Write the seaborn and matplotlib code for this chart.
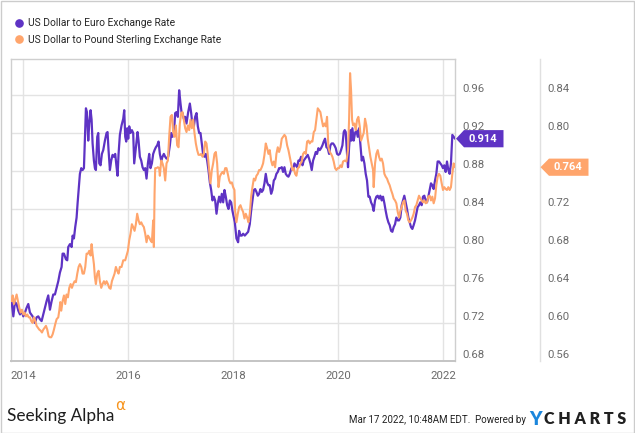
import matplotlib
matplotlib.use("Agg")
import matplotlib.pyplot as plt
import matplotlib.transforms as mtransforms
from matplotlib.lines import Line2D
from matplotlib.patches import Polygon, Rectangle
import pandas as pd
import seaborn as sns

# ---------------- data ----------------
euro_dates = [
    2013.778, 2013.810, 2013.841, 2013.873, 2013.905, 2013.937, 2013.968, 2014.000, 2014.032, 2014.063,
    2014.095, 2014.127, 2014.190, 2014.222, 2014.254, 2014.286, 2014.317, 2014.349, 2014.381, 2014.413,
    2014.444, 2014.476, 2014.508, 2014.540, 2014.571, 2014.603, 2014.635, 2014.667, 2014.698, 2014.730,
    2014.749, 2014.775, 2014.813, 2014.838, 2014.857, 2014.889, 2014.921, 2014.940, 2014.965, 2014.990,
    2015.016, 2015.035, 2015.060, 2015.079, 2015.105, 2015.130, 2015.156, 2015.175, 2015.194, 2015.213,
    2015.238, 2015.257, 2015.283, 2015.302, 2015.321, 2015.346, 2015.365, 2015.384, 2015.410, 2015.429,
    2015.448, 2015.473, 2015.498, 2015.524, 2015.556, 2015.587, 2015.606, 2015.625, 2015.651, 2015.676,
    2015.702, 2015.727, 2015.752, 2015.778, 2015.797, 2015.816, 2015.841, 2015.873, 2015.905,
    2015.924, 2015.943, 2015.962, 2015.981, 2016.000, 2016.019, 2016.044, 2016.070, 2016.095, 2016.114,
    2016.133, 2016.159, 2016.178, 2016.197, 2016.222, 2016.248, 2016.273, 2016.298, 2016.324, 2016.349,
    2016.375, 2016.400, 2016.425, 2016.451, 2016.476, 2016.502, 2016.527, 2016.552, 2016.578, 2016.603,
    2016.629, 2016.654, 2016.679, 2016.705, 2016.730, 2016.762, 2016.794, 2016.819, 2016.844, 2016.870,
    2016.895, 2016.921, 2016.946, 2016.971, 2016.997, 2017.016, 2017.035, 2017.060, 2017.086, 2017.111,
    2017.143, 2017.175, 2017.200, 2017.225, 2017.251, 2017.276, 2017.302, 2017.327, 2017.352, 2017.378,
    2017.403, 2017.429, 2017.454, 2017.479, 2017.505, 2017.530, 2017.556, 2017.581, 2017.606, 2017.632,
    2017.657, 2017.683, 2017.708, 2017.733, 2017.759, 2017.784, 2017.810, 2017.835, 2017.860, 2017.886,
    2017.911, 2017.937, 2017.962, 2017.987, 2018.013,
    2018.032, 2018.063, 2018.095, 2018.114, 2018.140, 2018.165, 2018.190, 2018.222, 2018.254, 2018.286,
    2018.317, 2018.343, 2018.368, 2018.394, 2018.419, 2018.444, 2018.470, 2018.495, 2018.521, 2018.546,
    2018.571, 2018.597, 2018.622, 2018.648, 2018.673, 2018.698, 2018.724, 2018.749, 2018.775, 2018.800,
    2018.825, 2018.851, 2018.876, 2018.902, 2018.927, 2018.952, 2018.978, 2019.003, 2019.029, 2019.054,
    2019.079, 2019.111, 2019.143, 2019.168, 2019.194, 2019.219, 2019.244, 2019.270, 2019.295, 2019.321,
    2019.346, 2019.371, 2019.397, 2019.422, 2019.448, 2019.473, 2019.498, 2019.524, 2019.549, 2019.575,
    2019.600, 2019.625, 2019.651, 2019.676, 2019.702, 2019.727, 2019.752, 2019.778, 2019.803, 2019.829,
    2019.854, 2019.879, 2019.905, 2019.930, 2019.956, 2019.981, 2020.006, 2020.032, 2020.057, 2020.083,
    2020.108, 2020.127,
    2020.146, 2020.171, 2020.190, 2020.210, 2020.235, 2020.254, 2020.273, 2020.298, 2020.324, 2020.349,
    2020.375, 2020.400, 2020.425, 2020.451, 2020.476, 2020.502, 2020.527, 2020.552, 2020.578, 2020.603,
    2020.629, 2020.654, 2020.679, 2020.705, 2020.730, 2020.756, 2020.781, 2020.806, 2020.832, 2020.857,
    2020.883, 2020.908, 2020.933, 2020.959, 2020.984, 2021.010, 2021.035, 2021.060, 2021.086, 2021.111,
    2021.137, 2021.162, 2021.187, 2021.213, 2021.238, 2021.263, 2021.289, 2021.314, 2021.340, 2021.365,
    2021.390, 2021.416, 2021.441, 2021.467, 2021.492, 2021.517, 2021.543, 2021.568, 2021.594, 2021.619,
    2021.644, 2021.670, 2021.695, 2021.721, 2021.746, 2021.771, 2021.797, 2021.822, 2021.848, 2021.873,
    2021.898, 2021.924, 2021.949, 2021.975, 2022.000, 2022.025, 2022.051, 2022.076, 2022.102, 2022.127,
    2022.152, 2022.178, 2022.203, 2022.229,
]
euro_rate = [
    0.742, 0.727, 0.742, 0.740, 0.733, 0.729, 0.733, 0.727, 0.731, 0.736,
    0.740, 0.731, 0.726, 0.720, 0.726, 0.727, 0.724, 0.722, 0.729, 0.736,
    0.743, 0.749, 0.734, 0.743, 0.750, 0.750, 0.757, 0.764, 0.773, 0.779,
    0.793, 0.793, 0.787, 0.786, 0.800, 0.803, 0.800, 0.812, 0.809, 0.821,
    0.831, 0.846, 0.863, 0.877, 0.883, 0.881, 0.883, 0.916, 0.946, 0.942,
    0.912, 0.930, 0.944, 0.934, 0.909, 0.891, 0.883, 0.881, 0.916, 0.920,
    0.888, 0.886, 0.898, 0.902, 0.912, 0.920, 0.921, 0.902, 0.881, 0.891,
    0.897, 0.895, 0.898, 0.884, 0.875, 0.898, 0.918, 0.928, 0.935,
    0.944, 0.916, 0.911, 0.925, 0.914, 0.927, 0.920, 0.923, 0.920, 0.888,
    0.898, 0.912, 0.921, 0.912, 0.895, 0.891, 0.884, 0.881, 0.883, 0.872,
    0.888, 0.898, 0.883, 0.888, 0.898, 0.902, 0.905, 0.907, 0.911, 0.898,
    0.891, 0.895, 0.898, 0.895, 0.893, 0.895, 0.907, 0.920, 0.916, 0.918,
    0.941, 0.942, 0.937, 0.965, 0.951, 0.942, 0.941, 0.935, 0.937, 0.930,
    0.942, 0.951, 0.941, 0.928, 0.927, 0.937, 0.941, 0.927, 0.920, 0.920,
    0.909, 0.897, 0.895, 0.898, 0.891, 0.881, 0.868, 0.860, 0.849, 0.853,
    0.849, 0.835, 0.846, 0.853, 0.847, 0.856, 0.847, 0.860, 0.853, 0.844,
    0.840, 0.849, 0.847, 0.838, 0.831,
    0.826, 0.809, 0.805, 0.817, 0.812, 0.812, 0.814, 0.812, 0.814, 0.816,
    0.824, 0.838, 0.849, 0.860, 0.861, 0.858, 0.854, 0.856, 0.861, 0.858,
    0.860, 0.867, 0.877, 0.868, 0.865, 0.865, 0.856, 0.860, 0.870, 0.872,
    0.877, 0.879, 0.883, 0.883, 0.884, 0.879, 0.884, 0.877, 0.875, 0.874,
    0.877, 0.883, 0.881, 0.888, 0.886, 0.884, 0.891, 0.891, 0.895, 0.886,
    0.891, 0.893, 0.895, 0.897, 0.893, 0.888, 0.881, 0.891, 0.895, 0.900,
    0.898, 0.904, 0.902, 0.904, 0.907, 0.911, 0.914, 0.905, 0.904, 0.898,
    0.907, 0.909, 0.909, 0.907, 0.904, 0.898, 0.897, 0.898, 0.902, 0.907,
    0.921, 0.923,
    0.921, 0.898, 0.884, 0.905, 0.923, 0.912, 0.925, 0.912, 0.920, 0.923,
    0.916, 0.925, 0.909, 0.891, 0.895, 0.888, 0.877, 0.870, 0.853, 0.853,
    0.847, 0.844, 0.838, 0.849, 0.853, 0.854, 0.851, 0.854, 0.849, 0.853,
    0.846, 0.838, 0.831, 0.826, 0.823, 0.817, 0.816, 0.821, 0.824, 0.831,
    0.828, 0.828, 0.831, 0.844, 0.849, 0.854, 0.847, 0.840, 0.831, 0.826,
    0.821, 0.819, 0.823, 0.828, 0.835, 0.842, 0.844, 0.847, 0.844, 0.853,
    0.854, 0.849, 0.847, 0.853, 0.860, 0.867, 0.865, 0.861, 0.870, 0.877,
    0.890, 0.890, 0.888, 0.886, 0.883, 0.886, 0.879, 0.890, 0.881, 0.877,
    0.888, 0.918, 0.916, 0.914,
]

gbp_dates = [
    2013.778, 2013.797, 2013.822, 2013.848, 2013.873, 2013.898, 2013.924, 2013.949, 2013.975, 2014.000,
    2014.025, 2014.051, 2014.076, 2014.102, 2014.127, 2014.152, 2014.178, 2014.203, 2014.229, 2014.254,
    2014.279, 2014.305, 2014.330, 2014.356, 2014.381, 2014.406, 2014.432, 2014.457, 2014.483, 2014.508,
    2014.533, 2014.559, 2014.584, 2014.610, 2014.635, 2014.667, 2014.686, 2014.705, 2014.724, 2014.749,
    2014.775, 2014.800, 2014.825, 2014.851, 2014.876, 2014.902, 2014.927, 2014.952, 2014.978, 2015.003,
    2015.029, 2015.054, 2015.079, 2015.105, 2015.130, 2015.156, 2015.181, 2015.206, 2015.232, 2015.257,
    2015.283, 2015.302, 2015.321, 2015.346, 2015.365, 2015.384, 2015.410, 2015.435, 2015.460, 2015.486,
    2015.511, 2015.537, 2015.562, 2015.587, 2015.613, 2015.638, 2015.663, 2015.689, 2015.714, 2015.740,
    2015.765, 2015.790, 2015.816, 2015.841, 2015.873, 2015.905,
    2015.943, 2015.968, 2015.994, 2016.019, 2016.044, 2016.070, 2016.095, 2016.121, 2016.146, 2016.171,
    2016.197, 2016.222, 2016.248, 2016.273, 2016.298, 2016.324, 2016.349, 2016.375, 2016.400, 2016.425,
    2016.451, 2016.476, 2016.489, 2016.502, 2016.514, 2016.540, 2016.565, 2016.590, 2016.603, 2016.629,
    2016.654, 2016.679, 2016.705, 2016.730, 2016.756, 2016.781, 2016.806, 2016.832, 2016.857, 2016.883,
    2016.908, 2016.933, 2016.959, 2016.984, 2017.010, 2017.035, 2017.060, 2017.086, 2017.111, 2017.137,
    2017.162, 2017.187, 2017.213, 2017.238, 2017.263, 2017.289, 2017.314, 2017.340, 2017.365, 2017.390,
    2017.416, 2017.441, 2017.467, 2017.492, 2017.517, 2017.543, 2017.568, 2017.594, 2017.619, 2017.644,
    2017.670, 2017.695, 2017.721, 2017.746, 2017.771, 2017.797, 2017.822, 2017.848, 2017.873, 2017.898,
    2017.924, 2017.949, 2017.975, 2018.000, 2018.025,
    2018.038, 2018.063, 2018.089, 2018.114, 2018.140, 2018.165, 2018.190, 2018.216, 2018.241, 2018.267,
    2018.292, 2018.317, 2018.343, 2018.368, 2018.394, 2018.419, 2018.444, 2018.470, 2018.495, 2018.521,
    2018.546, 2018.571, 2018.597, 2018.622, 2018.648, 2018.673, 2018.698, 2018.724, 2018.749, 2018.775,
    2018.800, 2018.825, 2018.851, 2018.876, 2018.902, 2018.927, 2018.952, 2018.978, 2019.003, 2019.029,
    2019.054, 2019.079, 2019.105, 2019.130, 2019.156, 2019.181, 2019.206, 2019.232, 2019.257, 2019.283,
    2019.308, 2019.333, 2019.359, 2019.384, 2019.410, 2019.435, 2019.460, 2019.486, 2019.511, 2019.537,
    2019.562, 2019.587, 2019.613, 2019.638, 2019.663, 2019.689, 2019.714, 2019.740, 2019.765, 2019.790,
    2019.816, 2019.841, 2019.867, 2019.892, 2019.917, 2019.943, 2019.968, 2019.994, 2020.019, 2020.044,
    2020.070,
    2020.095, 2020.127, 2020.159, 2020.190, 2020.210, 2020.229, 2020.248, 2020.267, 2020.286, 2020.311,
    2020.337, 2020.362, 2020.387, 2020.413, 2020.438, 2020.463, 2020.489, 2020.514, 2020.540, 2020.565,
    2020.590, 2020.616, 2020.641, 2020.667, 2020.679, 2020.705, 2020.730, 2020.756, 2020.781, 2020.806,
    2020.832, 2020.857, 2020.883, 2020.908, 2020.933, 2020.959, 2020.984, 2021.010, 2021.035, 2021.060,
    2021.086, 2021.111, 2021.137, 2021.162, 2021.187, 2021.213, 2021.238, 2021.263, 2021.289, 2021.314,
    2021.340, 2021.365, 2021.390, 2021.416, 2021.441, 2021.467, 2021.492, 2021.517, 2021.543, 2021.568,
    2021.594, 2021.619, 2021.644, 2021.670, 2021.695, 2021.721, 2021.746, 2021.771, 2021.797, 2021.822,
    2021.848, 2021.873, 2021.898, 2021.924, 2021.949, 2021.975, 2022.000, 2022.025, 2022.051, 2022.076,
    2022.102, 2022.127, 2022.152, 2022.178, 2022.203, 2022.229,
]
gbp_rate = [
    0.623, 0.629, 0.620, 0.625, 0.630, 0.623, 0.616, 0.611, 0.614, 0.609,
    0.611, 0.607, 0.609, 0.606, 0.606, 0.602, 0.600, 0.606, 0.602, 0.597,
    0.595, 0.593, 0.592, 0.590, 0.593, 0.595, 0.597, 0.593, 0.586, 0.585,
    0.585, 0.588, 0.593, 0.599, 0.604, 0.606, 0.613, 0.622, 0.613, 0.623,
    0.629, 0.620, 0.630, 0.627, 0.637, 0.641, 0.637, 0.641, 0.644, 0.643,
    0.652, 0.659, 0.662, 0.659, 0.652, 0.652, 0.659, 0.673, 0.673, 0.676,
    0.671, 0.683, 0.673, 0.662, 0.648, 0.641, 0.652, 0.655, 0.644, 0.637,
    0.641, 0.644, 0.641, 0.644, 0.641, 0.637, 0.636, 0.644, 0.648, 0.652,
    0.659, 0.655, 0.652, 0.659, 0.659, 0.666,
    0.666, 0.671, 0.676, 0.687, 0.694, 0.704, 0.701, 0.697, 0.704, 0.715,
    0.708, 0.704, 0.706, 0.703, 0.701, 0.694, 0.685, 0.692, 0.690, 0.687,
    0.685, 0.708, 0.680, 0.736, 0.763, 0.763, 0.764, 0.763, 0.755, 0.771,
    0.768, 0.763, 0.750, 0.768, 0.771, 0.796, 0.817, 0.819, 0.801, 0.796,
    0.808, 0.787, 0.785, 0.810, 0.821, 0.822, 0.814, 0.805, 0.801, 0.808,
    0.803, 0.814, 0.805, 0.814, 0.800, 0.789, 0.782, 0.777, 0.777, 0.778,
    0.775, 0.778, 0.791, 0.789, 0.777, 0.761, 0.747, 0.761, 0.768, 0.778,
    0.780, 0.768, 0.743, 0.754, 0.757, 0.759, 0.757, 0.763, 0.763, 0.757,
    0.750, 0.747, 0.748, 0.743, 0.740,
    0.718, 0.706, 0.715, 0.722, 0.724, 0.720, 0.717, 0.710, 0.715, 0.711,
    0.706, 0.715, 0.733, 0.743, 0.752, 0.750, 0.755, 0.757, 0.761, 0.761,
    0.764, 0.768, 0.777, 0.789, 0.784, 0.778, 0.782, 0.771, 0.766, 0.770,
    0.764, 0.778, 0.785, 0.780, 0.785, 0.794, 0.796, 0.798, 0.796, 0.787,
    0.782, 0.775, 0.768, 0.761, 0.763, 0.757, 0.755, 0.763, 0.764, 0.768,
    0.770, 0.778, 0.780, 0.778, 0.791, 0.792, 0.789, 0.791, 0.791, 0.801,
    0.803, 0.814, 0.826, 0.824, 0.822, 0.814, 0.807, 0.810, 0.807, 0.817,
    0.785, 0.780, 0.778, 0.775, 0.770, 0.763, 0.761, 0.763, 0.763, 0.766,
    0.764,
    0.770, 0.771, 0.770, 0.782, 0.814, 0.863, 0.845, 0.814, 0.808, 0.810,
    0.803, 0.814, 0.817, 0.807, 0.792, 0.796, 0.800, 0.815, 0.808, 0.794,
    0.785, 0.775, 0.768, 0.761, 0.743, 0.768, 0.778, 0.782, 0.775, 0.771,
    0.773, 0.768, 0.757, 0.754, 0.752, 0.748, 0.745, 0.740, 0.736, 0.731,
    0.729, 0.726, 0.717, 0.711, 0.718, 0.722, 0.727, 0.729, 0.718, 0.715,
    0.708, 0.706, 0.708, 0.711, 0.715, 0.722, 0.724, 0.729, 0.734, 0.731,
    0.729, 0.727, 0.729, 0.726, 0.727, 0.733, 0.734, 0.729, 0.733, 0.726,
    0.731, 0.745, 0.754, 0.757, 0.755, 0.747, 0.740, 0.743, 0.741, 0.740,
    0.743, 0.740, 0.743, 0.757, 0.768, 0.764,
]

series_names = ["US Dollar to Euro Exchange Rate", "US Dollar to Pound Sterling Exchange Rate"]
year_ticks = [2014, 2016, 2018, 2020, 2022]
euro_ticks = [0.68, 0.72, 0.76, 0.80, 0.84, 0.88, 0.92, 0.96]
gbp_ticks = [0.56, 0.60, 0.64, 0.68, 0.72, 0.80, 0.84]   # 0.76 is hidden behind the badge
footer_date = "Mar 17 2022, 10:48AM EDT."

# ---------------- style ----------------
PURPLE = "#5e33c4"
ORANGE = "#ffa56c"
GRID = "#e3e3e3"
FRAME = "#cfcfcf"
TICKC = "#6b6b6b"

sns.set_style("white")
plt.rcParams["font.family"] = ["Roboto", "DejaVu Sans"]

W, H = 635, 433
fig = plt.figure(figsize=(W / 100, H / 100), dpi=100)

L, R, T, B = 10.7, 455.0, 59.0, 361.0
ax = fig.add_axes([L / W, 1 - B / H, (R - L) / W, (B - T) / H])

df_eur = pd.DataFrame({"date": euro_dates, "rate": euro_rate})
df_gbp = pd.DataFrame({"date": gbp_dates, "rate": gbp_rate})

sns.lineplot(data=df_eur, x="date", y="rate", ax=ax, color=PURPLE, lw=1.6, zorder=3)
ax2 = ax.twinx()
sns.lineplot(data=df_gbp, x="date", y="rate", ax=ax2, color=ORANGE, lw=1.5, zorder=3)

xmin, xmax = 2013.76, 2022.229
ax.set_xlim(xmin, xmax)
ax.set_ylim(0.68, 0.68 + (B - T) / 950)
ax2.set_ylim(0.56, 0.56 + (B - T) / 950)

ax.set_xticks(year_ticks)
ax.set_xticklabels([str(y) for y in year_ticks])
ax.set_yticks(euro_ticks)
ax.set_yticklabels([f"{v:.2f}" for v in euro_ticks])
ax2.set_yticks(gbp_ticks)
ax2.set_yticklabels([f"{v:.2f}" for v in gbp_ticks])

for a in (ax, ax2):
    a.set_xlabel("")
    a.set_ylabel("")

ax.grid(True, color=GRID, lw=1.0, zorder=0)
ax2.grid(False)
ax.set_axisbelow(True)

ax.yaxis.tick_right()
ax.tick_params(axis="y", length=0, pad=5.0, labelsize=8.2, labelcolor=TICKC,
               labelright=True, labelleft=False)
ax.tick_params(axis="x", length=0, pad=7.2, labelsize=8.2, labelcolor=TICKC)
ax2.tick_params(axis="y", length=0, pad=5.0, labelsize=8.2, labelcolor=TICKC)

for s in ax.spines.values():
    s.set_color(FRAME)
    s.set_linewidth(1.0)
    s.set_visible(True)
ax.spines["bottom"].set_color("#c4c4c4")
ax.spines["bottom"].set_linewidth(1.4)
for k in ("top", "left", "bottom"):
    ax2.spines[k].set_visible(False)
ax2.spines["right"].set_position(("axes", (540.0 - L) / (R - L)))
ax2.spines["right"].set_color("#e0e0e0")
ax2.spines["right"].set_linewidth(1.0)

up = mtransforms.ScaledTranslation(0, 6.7 / 100, fig.dpi_scale_trans)
for lbl in ax.get_yticklabels() + ax2.get_yticklabels():
    lbl.set_transform(lbl.get_transform() + up)

# ---------------- legend ----------------
handles = [Line2D([], [], marker="o", ls="", color=PURPLE, markersize=5.2),
           Line2D([], [], marker="o", ls="", color=ORANGE, markersize=5.2)]
fig.legend(handles, series_names, loc="upper left", bbox_to_anchor=(15.8 / W, 1 - 18.5 / H),
           frameon=False, fontsize=7.4, handlelength=0.7, handletextpad=0.45,
           labelspacing=0.62, borderpad=0, borderaxespad=0, labelcolor="#262626")

# ---------------- last-value badges ----------------
ident = mtransforms.IdentityTransform()

def badge(axis, xval, yval, tip_px, body_l, body_r, color, text):
    _, yd = axis.transData.transform((xval, yval))
    h = 8.6
    pts = [(tip_px, yd), (body_l, yd + h), (body_r, yd + h), (body_r, yd - h), (body_l, yd - h)]
    fig.add_artist(Polygon(pts, closed=True, facecolor=color, edgecolor="none",
                           transform=ident, zorder=10))
    fig.text((body_l + body_r) / 2 - 1, yd, text, transform=ident, ha="center", va="center",
             color="white", fontsize=8.0, fontweight="bold", zorder=11)

badge(ax, xmax, euro_rate[-1], 456.0, 464.0, 503.5, PURPLE, f"{euro_rate[-1]:.3f}")
badge(ax2, xmax, gbp_rate[-1], 540.5, 549.0, 588.5, ORANGE, f"{gbp_rate[-1]:.3f}")

# ---------------- footer ----------------
fig.text(7 / W, 1 - 421.5 / H, "Seeking Alpha", family=["Lato", "DejaVu Sans"], fontsize=12.4,
         color="#1e1e1e", va="baseline", ha="left")
fig.text(115 / W, 1 - 406 / H, "\u03b1", family=["DejaVu Sans"], fontsize=11, color="#f7941d",
         va="center", ha="left")
fig.text(526 / W, 1 - 420 / H, footer_date + "  Powered by",
         family=["Liberation Sans Narrow", "Roboto", "DejaVu Sans"], fontsize=7.0,
         color="#222222", va="center", ha="right")
fig.text(529 / W, 1 - 419.5 / H, "Y", family=["Lato", "DejaVu Sans"], fontweight="heavy",
         fontsize=13.5, color="#1b86dc", va="center", ha="left")
fig.text(626 / W, 1 - 419.5 / H, "C H A R T S", family=["Lato", "DejaVu Sans"], fontweight="heavy",
         fontsize=11.5, color="#202020", va="center", ha="right")

# outer border
fig.add_artist(Rectangle((0.5 / W, 0.5 / H), (W - 1.5) / W, (H - 1.5) / H, transform=fig.transFigure,
                         fill=False, edgecolor="#cccccc", lw=1.0))

fig.savefig("out.png", dpi=100)
